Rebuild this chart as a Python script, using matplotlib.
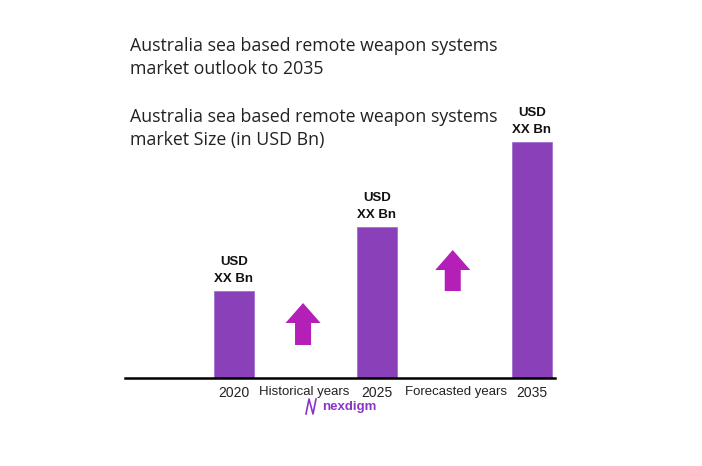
import numpy as np
import matplotlib
matplotlib.use("Agg")
import matplotlib.pyplot as plt

years = ["2020", "2025", "2035"]
values = [87, 151, 236]          # placeholder sizes
bar_labels = ["USD\nXX Bn", "USD\nXX Bn", "USD\nXX Bn"]
period_labels = ["Historical years", "Forecasted years"]
# arrows: (bottom, tip) in value units
arrow_spans = [(33, 75), (87, 128)]

title1 = "Australia sea based remote weapon systems\nmarket outlook to 2035"
title2 = "Australia sea based remote weapon systems\nmarket Size (in USD Bn)"

bar_col = "#8a40b9"
arrow_col = "#b41fb7"
logo_col = "#8a35c8"

xpos = [0, 1, 2.084]
period_x = [0.49, 1.55]
arrow_x = [0.483, 1.53]

fig = plt.figure(figsize=(7.02, 4.66), dpi=100)
ax = fig.add_axes([125/702, 88/466, 430/702, 300/466])
ax.bar(xpos, values, width=0.28, color=bar_col, edgecolor="#a070d0", linewidth=0.6)
ax.set_xlim(-0.762, 2.245)
ax.set_ylim(0, 300)

for x, v, lab in zip(xpos, values, bar_labels):
    ax.annotate(lab, (x, v), xytext=(0, 4), textcoords="offset points",
                ha="center", va="bottom", fontsize=9.5, fontweight="bold",
                family="Liberation Sans", linespacing=1.6, color="#111")

for (b, t), x in zip(arrow_spans, arrow_x):
    ax.arrow(x, b, 0, t - b, width=0.112, head_width=0.245, head_length=20,
             length_includes_head=True, color=arrow_col, linewidth=0)

for s in ["top", "left", "right"]:
    ax.spines[s].set_visible(False)
ax.spines["bottom"].set_linewidth(1.8)
ax.set_yticks([])
ax.set_xticks(xpos)
ax.set_xticklabels(years, family="Liberation Sans", fontsize=10, color="#222")
ax.tick_params(axis="x", length=0, pad=5.5)
for x, lab in zip(period_x, period_labels):
    ax.text(x, -14, lab, ha="center", va="center", fontsize=9.5,
            family="Liberation Sans", color="#222")

fig.text(130/702, 1 - 37/466, title1, ha="left", va="top", fontsize=12.8,
         family="Open Sans", color="#222", linespacing=1.35)
fig.text(130/702, 1 - 108/466, title2, ha="left", va="top", fontsize=12.8,
         family="Open Sans", color="#222", linespacing=1.35)

# logo
fig.text(322/702, 1 - 407/466, "nexdigm", ha="left", va="center", fontsize=9.5,
         fontweight="bold", family="Liberation Sans", color=logo_col)
fig.lines.append(plt.Line2D([306/702, 309/702, 313/702, 316/702],
                            [1 - 414/466, 1 - 399/466, 1 - 414/466, 1 - 399/466],
                            transform=fig.transFigure, color=logo_col, lw=1.2))

fig.savefig("out.png", dpi=100)
